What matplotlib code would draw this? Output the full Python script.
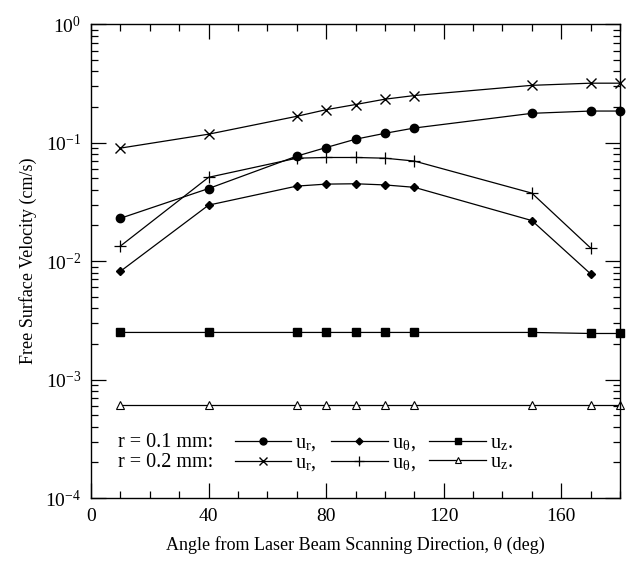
import matplotlib
matplotlib.use("Agg")
import matplotlib.pyplot as plt
from matplotlib.lines import Line2D
from matplotlib.ticker import MultipleLocator, LogLocator

plt.rcParams['font.family'] = ['Liberation Serif', 'DejaVu Serif']
plt.rcParams['mathtext.fontset'] = 'stix'

# Data
theta = [10, 40, 70, 80, 90, 100, 110, 150, 170, 180]
theta_t = [10, 40, 70, 80, 90, 100, 110, 150, 170]

ur_01 = [0.023, 0.041, 0.077, 0.091, 0.107, 0.120, 0.133, 0.177, 0.185, 0.185]
ut_01 = [0.0082, 0.0297, 0.043, 0.0447, 0.045, 0.044, 0.042, 0.022, 0.0078]
uz_01 = [0.0025, 0.0025, 0.0025, 0.0025, 0.0025, 0.0025, 0.0025, 0.0025, 0.00245, 0.00245]

ur_02 = [0.090, 0.118, 0.167, 0.190, 0.210, 0.233, 0.250, 0.305, 0.318, 0.318]
ut_02 = [0.0134, 0.051, 0.074, 0.075, 0.075, 0.074, 0.070, 0.0375, 0.0129]
uz_02 = [0.00061, 0.00061, 0.00061, 0.00061, 0.00061, 0.00061, 0.00061, 0.00061, 0.00061, 0.00061]

fig = plt.figure(figsize=(6.34, 5.64), dpi=100)
ax = fig.add_axes([0.1435, 0.117, 0.8345, 0.84])

lw = 0.9
kw = dict(color='black', lw=lw, clip_on=False)
ax.plot(theta, ur_01, marker='o', ms=6, **kw)
ax.plot(theta_t, ut_01, marker='D', ms=4.5, **kw)
ax.plot(theta, uz_01, marker='s', ms=5.5, **kw)
ax.plot(theta, ur_02, marker='x', ms=7, mew=1.0, **kw)
ax.plot(theta_t, ut_02, marker='+', ms=8, mew=0.9, **kw)
ax.plot(theta, uz_02, marker='^', ms=5.5, mfc='white', mew=0.8, **kw)

ax.set_yscale('log')
ax.set_xlim(0, 180)
ax.set_ylim(1e-4, 1e0)
ax.xaxis.set_major_locator(MultipleLocator(40))
ax.xaxis.set_minor_locator(MultipleLocator(10))
ax.yaxis.set_major_locator(LogLocator(base=10, numticks=10))
ax.yaxis.set_minor_locator(LogLocator(base=10, subs=range(2, 10), numticks=50))

ax.tick_params(which='both', direction='in', top=True, right=True, labelsize=14, width=0.9)
ax.tick_params(which='major', length=11, pad=7)
ax.tick_params(which='minor', length=5)
for s in ax.spines.values():
    s.set_linewidth(1.0)

ax.set_xlabel('Angle from Laser Beam Scanning Direction, θ (deg)', fontsize=13, labelpad=8)
ax.set_ylabel('Free Surface Velocity (cm/s)', fontsize=13, labelpad=6)

# Legend: two rows, three columns
handles = [
    Line2D([], [], color='black', lw=lw, marker='o', ms=5),
    Line2D([], [], color='black', lw=lw, marker='x', ms=6, mew=1.0),
    Line2D([], [], color='black', lw=lw, marker='D', ms=3.5),
    Line2D([], [], color='black', lw=lw, marker='+', ms=7, mew=0.9),
    Line2D([], [], color='black', lw=lw, marker='s', ms=5),
    Line2D([], [], color='black', lw=lw, marker='^', ms=5, mfc='white', mew=0.8),
]
labels = [r'u$_{\mathregular{r}}$,', r'u$_{\mathregular{r}}$,',
          r'u$_{\mathregular{\theta}}$,', r'u$_{\mathregular{\theta}}$,',
          r'u$_{\mathregular{z}}$.', r'u$_{\mathregular{z}}$.']
ax.legend(handles, labels, ncol=3, loc='center left', bbox_to_anchor=(0.272, 0.094),
          frameon=False, fontsize=14.5, handlelength=2.8, handletextpad=0.2,
          columnspacing=0.7, labelspacing=0.0, borderpad=0, borderaxespad=0)
ax.text(0.051, 0.118, 'r = 0.1 mm:', transform=ax.transAxes, fontsize=14.5, va='center')
ax.text(0.051, 0.074, 'r = 0.2 mm:', transform=ax.transAxes, fontsize=14.5, va='center')

fig.savefig('out.png', dpi=100)
